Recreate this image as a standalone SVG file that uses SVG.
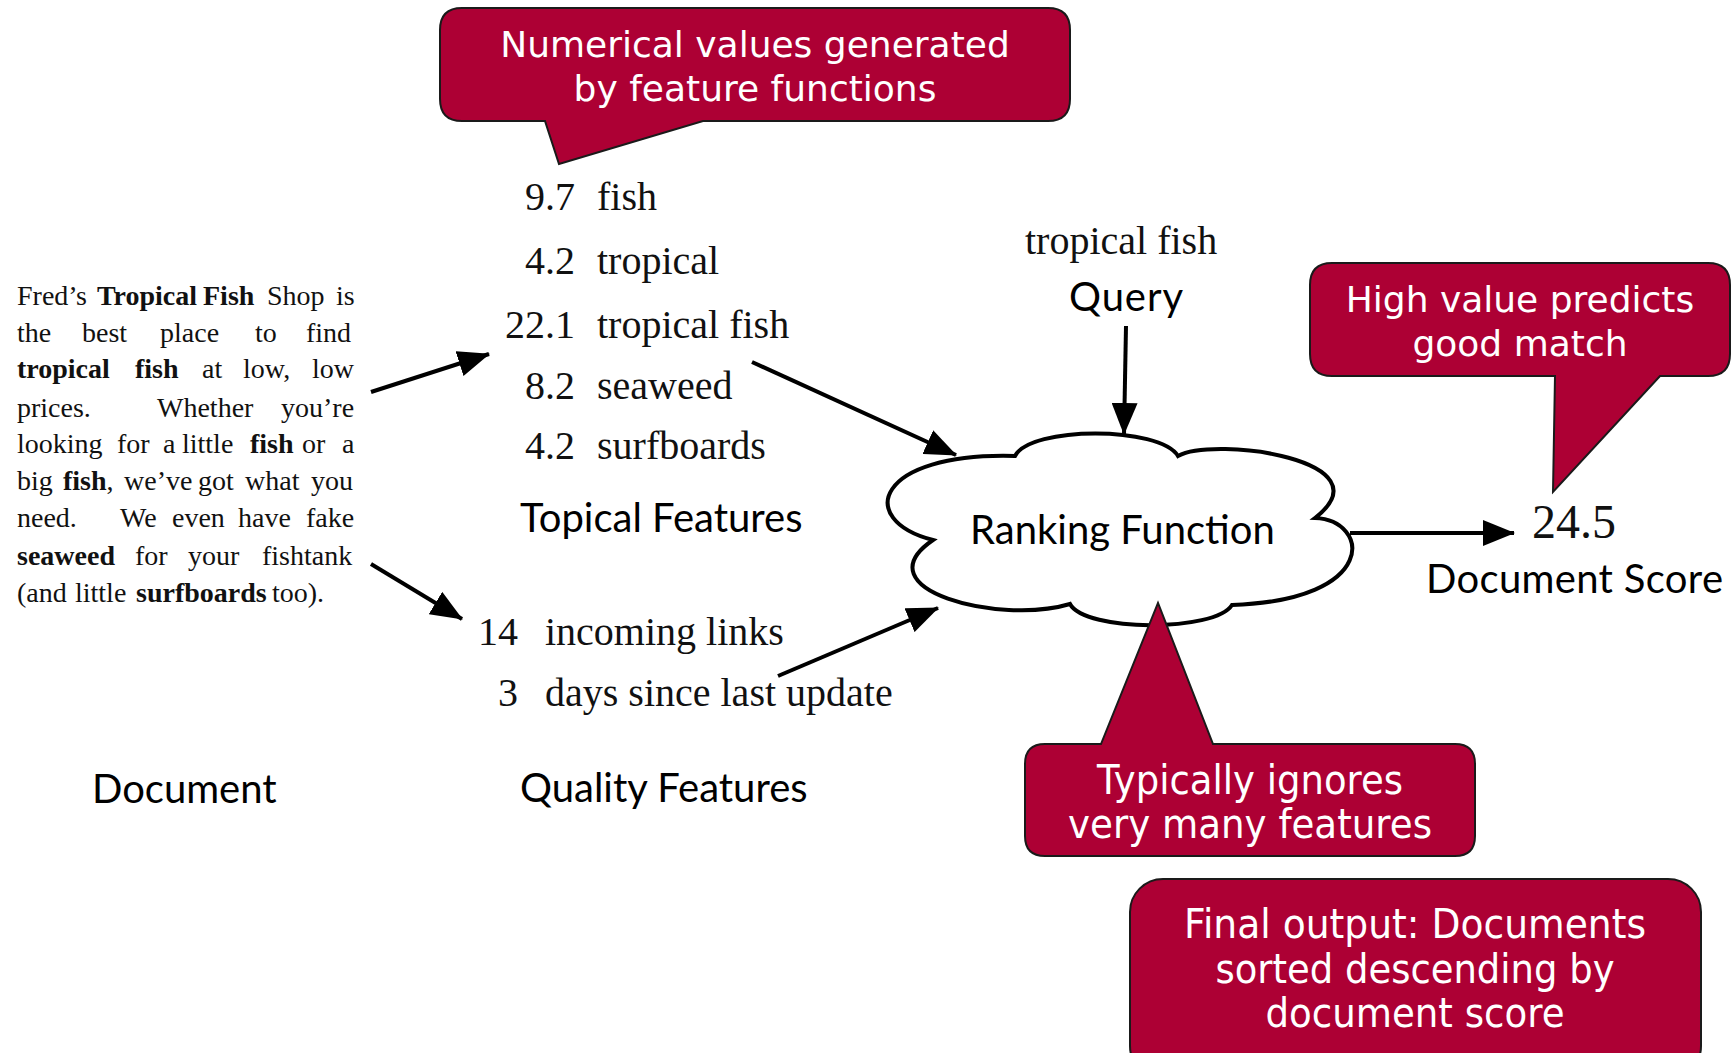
<svg xmlns="http://www.w3.org/2000/svg" width="1735" height="1053" viewBox="0 0 1735 1053">
<style>
.doc{font-family:"Liberation Serif",serif;font-size:28px;fill:#111}
.b{font-weight:bold}
.feat{font-family:"Liberation Serif",serif;font-size:40px;fill:#111}
.num{text-anchor:end}
.lab{font-family:Lato,"Open Sans",sans-serif;font-size:40px;fill:#000}
.call{fill:#ad0034;stroke:#1a1a1a;stroke-width:2}
.ct{font-family:"DejaVu Sans",sans-serif;font-size:36px;fill:#fff;text-anchor:middle}
.ct2{font-family:"DejaVu Sans",sans-serif;font-size:41px;fill:#fff;text-anchor:middle}
.conn{stroke:#000;stroke-width:4;fill:none}
</style>
<defs>
<marker id="ah" markerUnits="userSpaceOnUse" markerWidth="32" markerHeight="26" refX="31" refY="13" orient="auto">
<path d="M0,0 L32,13 L0,26 z" fill="#000"/>
</marker>
</defs>
<rect width="1735" height="1053" fill="#fff"/>

<g id="document">
<text class="doc" y="305"><tspan x="17">Fred’s</tspan><tspan x="97" class="b">Tropical</tspan><tspan x="203" class="b">Fish</tspan><tspan x="267">Shop</tspan><tspan x="336">is</tspan></text>
<text class="doc" y="342"><tspan x="17">the</tspan><tspan x="82">best</tspan><tspan x="160">place</tspan><tspan x="255">to</tspan><tspan x="306">find</tspan></text>
<text class="doc" y="378"><tspan x="17" class="b">tropical</tspan><tspan x="135" class="b">fish</tspan><tspan x="202">at</tspan><tspan x="243">low,</tspan><tspan x="312">low</tspan></text>
<text class="doc" y="417"><tspan x="17">prices.</tspan><tspan x="157">Whether</tspan><tspan x="281">you’re</tspan></text>
<text class="doc" y="453"><tspan x="17">looking</tspan><tspan x="117">for</tspan><tspan x="163">a</tspan><tspan x="182">little</tspan><tspan x="250" class="b">fish</tspan><tspan x="302">or</tspan><tspan x="342">a</tspan></text>
<text class="doc" y="490"><tspan x="17">big</tspan><tspan x="63" class="b">fish</tspan><tspan>,</tspan><tspan x="124">we’ve</tspan><tspan x="198">got</tspan><tspan x="245">what</tspan><tspan x="311">you</tspan></text>
<text class="doc" y="527"><tspan x="17">need.</tspan><tspan x="120">We</tspan><tspan x="172">even</tspan><tspan x="238">have</tspan><tspan x="306">fake</tspan></text>
<text class="doc" y="565"><tspan x="17" class="b">seaweed</tspan><tspan x="135">for</tspan><tspan x="188">your</tspan><tspan x="262">fishtank</tspan></text>
<text class="doc" y="602"><tspan x="17">(and</tspan><tspan x="75">little</tspan><tspan x="136" class="b">surfboards</tspan><tspan x="272">too).</tspan></text>
<text class="lab" x="92" y="803">Document</text>
</g>

<g id="topical-features">
<text class="feat num" x="575" y="210">9.7</text><text class="feat" x="597" y="210">fish</text>
<text class="feat num" x="575" y="274">4.2</text><text class="feat" x="597" y="274">tropical</text>
<text class="feat num" x="575" y="338">22.1</text><text class="feat" x="597" y="338">tropical fish</text>
<text class="feat num" x="575" y="399">8.2</text><text class="feat" x="597" y="399">seaweed</text>
<text class="feat num" x="575" y="459">4.2</text><text class="feat" x="597" y="459">surfboards</text>
<text class="lab" x="520" y="532">Topical Features</text>
</g>

<g id="quality-features">
<text class="feat num" x="518" y="645">14</text><text class="feat" x="545" y="645">incoming links</text>
<text class="feat num" x="518" y="706">3</text><text class="feat" x="545" y="706">days since last update</text>
<text class="lab" x="520" y="802">Quality Features</text>
</g>

<g id="query">
<text class="feat" x="1025" y="254">tropical fish</text>
<text class="lab" x="1069" y="311" textLength="114">Query</text>
</g>

<g id="connectors">
<line class="conn" x1="371" y1="392" x2="489" y2="354" marker-end="url(#ah)"/>
<line class="conn" x1="371" y1="564" x2="462" y2="619" marker-end="url(#ah)"/>
<line class="conn" x1="752" y1="362" x2="956" y2="455" marker-end="url(#ah)"/>
<line class="conn" x1="778" y1="676" x2="938" y2="608" marker-end="url(#ah)"/>
<line class="conn" x1="1126" y1="326" x2="1124" y2="434" marker-end="url(#ah)"/>
<line class="conn" x1="1350" y1="533" x2="1514" y2="533" marker-end="url(#ah)"/>
</g>

<g id="ranking-function">
<path d="M1015,456 C1030,426 1160,426 1178,456 C1215,436 1390,460 1315,518 C1370,520 1380,600 1232,605 C1215,632 1085,632 1070,604 C1000,625 860,590 933,540 C855,520 875,452 1015,456 Z" fill="#fff" stroke="#000" stroke-width="4" stroke-linejoin="miter"/>
<text class="lab" x="970" y="544">Ranking Function</text>
</g>

<g id="document-score">
<text class="feat" x="1532" y="538" style="font-size:48px">24.5</text>
<text class="lab" x="1426" y="593" textLength="297">Document Score</text>
</g>

<g id="callout-numerical">
<path class="call" d="M462,8 H1048 Q1070,8 1070,30 V99 Q1070,121 1048,121 H703 L559,164 L545,121 H462 Q440,121 440,99 V30 Q440,8 462,8 Z"/>
<text class="ct" x="755" y="57">Numerical values generated</text>
<text class="ct" x="755" y="101">by feature functions</text>
</g>

<g id="callout-high-value">
<path class="call" d="M1332,263 H1708 Q1730,263 1730,285 V354 Q1730,376 1708,376 H1660 L1553,492 L1555,376 H1332 Q1310,376 1310,354 V285 Q1310,263 1332,263 Z"/>
<text class="ct" x="1520" y="312">High value predicts</text>
<text class="ct" x="1520" y="356">good match</text>
</g>

<g id="callout-ignores">
<path class="call" d="M1045,744 H1101 L1158,603 L1213,744 H1455 Q1475,744 1475,764 V836 Q1475,856 1455,856 H1045 Q1025,856 1025,836 V764 Q1025,744 1045,744 Z"/>
<text class="ct2" x="1250" y="794" textLength="306" lengthAdjust="spacingAndGlyphs">Typically ignores</text>
<text class="ct2" x="1250" y="838" textLength="364" lengthAdjust="spacingAndGlyphs">very many features</text>
</g>

<g id="callout-final">
<rect class="call" x="1130" y="879" width="571" height="200" rx="33"/>
<text class="ct2" x="1415" y="938" textLength="462" lengthAdjust="spacingAndGlyphs">Final output: Documents</text>
<text class="ct2" x="1415" y="983" textLength="399" lengthAdjust="spacingAndGlyphs">sorted descending by</text>
<text class="ct2" x="1415" y="1027" textLength="299" lengthAdjust="spacingAndGlyphs">document score</text>
</g>
</svg>
